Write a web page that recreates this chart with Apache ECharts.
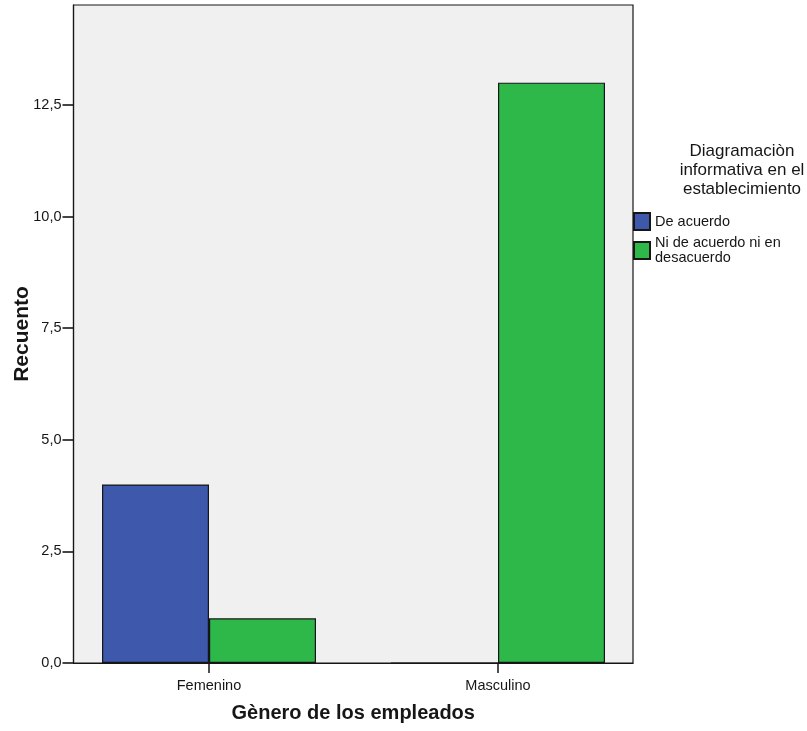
<!DOCTYPE html>
<html>
<head>
<meta charset="utf-8">
<script src="https://cdn.jsdelivr.net/npm/echarts@6/dist/echarts.min.js"></script>
<style>
  html, body { margin: 0; padding: 0; background: #ffffff; }
  #chart { width: 807px; height: 731px; }
</style>
</head>
<body>
<div id="chart"></div>
<script>
// Counts of employees by gender and opinion
const categories = ['Femenino', 'Masculino'];
const seriesNames = ['De acuerdo', 'Ni de acuerdo ni en\ndesacuerdo'];
const deAcuerdo = [4, 0];
const niDeAcuerdo = [1, 13];
const yTicks = [0, 2.5, 5, 7.5, 10, 12.5];
const yMax = 14.74;

const FONT = '"Liberation Sans", Arial, sans-serif';
const INK = '#161616';

const chart = echarts.init(document.getElementById('chart'));

const fmt = v => v.toFixed(1).replace('.', ',');

chart.setOption({
  animation: false,
  textStyle: { fontFamily: FONT, color: INK },
  title: {
    text: 'Diagramaciòn\ninformativa en el\nestablecimiento',
    left: 737,
    top: 137,
    textAlign: 'center',
    textStyle: { fontFamily: FONT, fontSize: 17, fontWeight: 'normal', color: INK, lineHeight: 19, align: 'center' }
  },
  legend: {
    orient: 'vertical',
    left: 633,
    top: 212,
    padding: 0,
    itemWidth: 16,
    itemHeight: 17,
    itemGap: 2.5,
    icon: 'rect',
    textStyle: { fontFamily: FONT, fontSize: 14.5, color: INK, lineHeight: 15, padding: [4, 0, 0, 0] },
    data: seriesNames
  },
  grid: [
    // plot frame with the shaded background
    { left: 73.5, top: 5, width: 559.5, height: 658, show: true, backgroundColor: '#f0f0f0', borderColor: INK, borderWidth: 1.2, containLabel: false, outerBoundsMode: 'none' },
    // bar layout
    { left: 64.5, top: 5, width: 578, height: 658, containLabel: false, outerBoundsMode: 'none' }
  ],
  xAxis: [
    {
      gridIndex: 0, type: 'value', min: 0, max: 1,
      name: 'Gènero de los empleados', nameLocation: 'middle', nameGap: 40, nameMoveOverlap: false,
      nameTextStyle: { fontFamily: FONT, fontSize: 20, fontWeight: 'bold', color: INK },
      axisLine: { show: true, lineStyle: { color: INK, width: 1.2 } },
      axisTick: { show: false }, axisLabel: { show: false }, splitLine: { show: false }
    },
    {
      gridIndex: 1, type: 'category', data: categories,
      axisLine: { show: false },
      axisTick: { show: true, alignWithLabel: true, length: 10, lineStyle: { color: INK, width: 1.5 } },
      axisLabel: { margin: 15, fontFamily: FONT, fontSize: 14.5, color: INK }
    }
  ],
  yAxis: [
    {
      gridIndex: 0, type: 'value', min: 0, max: yMax,
      name: 'Recuento', nameLocation: 'middle', nameGap: 41, nameMoveOverlap: false,
      nameTextStyle: { fontFamily: FONT, fontSize: 21, fontWeight: 'bold', color: INK },
      axisLine: { show: true, lineStyle: { color: INK, width: 1.2 } },
      axisTick: { show: true, length: 11, customValues: yTicks, lineStyle: { color: INK, width: 1.6 } },
      axisLabel: { show: true, customValues: yTicks, margin: 12, fontFamily: FONT, fontSize: 14.5, color: INK, formatter: v => fmt(v) },
      splitLine: { show: false }
    },
    {
      gridIndex: 1, type: 'value', min: 0, max: yMax, show: false, splitLine: { show: false }
    }
  ],
  series: [
    {
      name: seriesNames[0], type: 'bar', xAxisIndex: 1, yAxisIndex: 1,
      data: deAcuerdo, barWidth: 107, barGap: '0%',
      itemStyle: { color: '#3e58ac', borderColor: INK, borderWidth: 1.2 }
    },
    {
      name: seriesNames[1], type: 'bar', xAxisIndex: 1, yAxisIndex: 1,
      data: niDeAcuerdo, barWidth: 107, barGap: '0%',
      itemStyle: { color: '#2eb84a', borderColor: INK, borderWidth: 1.2 }
    }
  ]
});
</script>
</body>
</html>
